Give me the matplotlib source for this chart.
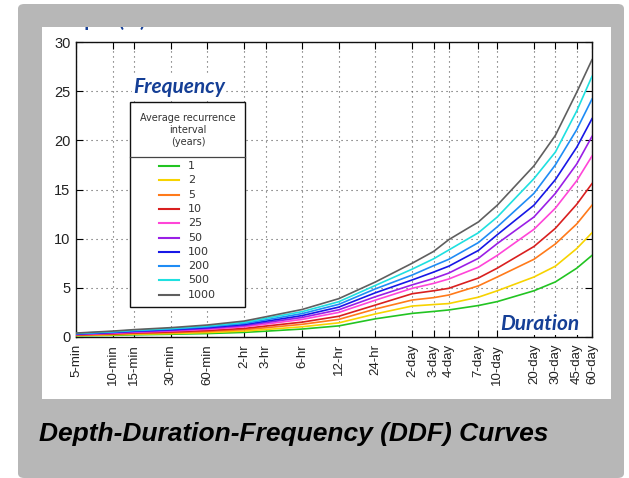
import matplotlib.pyplot as plt
from matplotlib.patches import Rectangle, FancyBboxPatch
from matplotlib.lines import Line2D
import numpy as np

# --- datos ---
duraciones = ["5-min", "10-min", "15-min", "30-min", "60-min", "2-hr", "3-hr", "6-hr",
              "12-hr", "24-hr", "2-day", "3-day", "4-day", "7-day", "10-day",
              "20-day", "30-day", "45-day", "60-day"]
minutos = [5, 10, 15, 30, 60, 120, 180, 360, 720, 1440, 2880, 4320, 5760,
           10080, 14400, 28800, 43200, 64800, 86400]

periodos = ["1", "2", "5", "10", "25", "50", "100", "200", "500", "1000"]

prof_1 = [0.12, 0.17, 0.22, 0.28, 0.35, 0.47, 0.59, 0.81, 1.13, 1.85, 2.40, 2.60, 2.75, 3.20, 3.60, 4.70, 5.60, 7.00, 8.30]
prof_2 = [0.15, 0.22, 0.28, 0.35, 0.45, 0.60, 0.76, 1.04, 1.44, 2.35, 3.15, 3.30, 3.40, 4.05, 4.70, 6.10, 7.20, 9.00, 10.60]
prof_5 = [0.18, 0.28, 0.35, 0.44, 0.56, 0.75, 0.94, 1.29, 1.79, 2.85, 3.76, 4.00, 4.27, 5.20, 6.10, 7.90, 9.46, 11.50, 13.40]
prof_10 = [0.22, 0.32, 0.41, 0.51, 0.66, 0.87, 1.11, 1.51, 2.11, 3.25, 4.40, 4.70, 4.95, 6.00, 7.00, 9.20, 11.05, 13.50, 15.60]
prof_25 = [0.26, 0.38, 0.48, 0.61, 0.78, 1.04, 1.31, 1.79, 2.50, 3.75, 4.95, 5.45, 5.90, 7.10, 8.30, 10.95, 13.10, 15.90, 18.40]
prof_50 = [0.28, 0.43, 0.53, 0.67, 0.87, 1.15, 1.46, 1.99, 2.77, 4.10, 5.30, 5.95, 6.50, 8.00, 9.50, 12.20, 14.60, 17.60, 20.40]
prof_100 = [0.31, 0.47, 0.59, 0.74, 0.95, 1.26, 1.60, 2.18, 3.04, 4.50, 5.80, 6.60, 7.20, 8.80, 10.40, 13.40, 16.00, 19.30, 22.20]
prof_200 = [0.34, 0.51, 0.64, 0.81, 1.04, 1.38, 1.74, 2.38, 3.32, 4.90, 6.30, 7.25, 7.90, 9.60, 11.20, 14.60, 17.50, 21.10, 24.20]
prof_500 = [0.37, 0.55, 0.69, 0.87, 1.12, 1.49, 1.89, 2.58, 3.59, 5.25, 6.90, 7.95, 8.85, 10.60, 12.20, 16.10, 18.80, 23.00, 26.50]
prof_1000 = [0.40, 0.60, 0.75, 0.95, 1.22, 1.62, 2.05, 2.80, 3.90, 5.60, 7.50, 8.70, 9.90, 11.70, 13.40, 17.40, 20.50, 24.90, 28.20]

series = [prof_1, prof_2, prof_5, prof_10, prof_25, prof_50, prof_100, prof_200, prof_500, prof_1000]
colores = ['#22c422', '#f7d300', '#ff7a1a', '#d91f1f', '#ff45d8',
           '#9a1fe6', '#1717e6', '#1f8cf5', '#1fe0e0', '#5f5f5f']

W, H = 629, 478
AZUL = '#153f96'


def px(x, y):
    # pixeles -> fraccion de figura
    return x / W, 1 - y / H


fig = plt.figure(figsize=(W / 100, H / 100), dpi=100)
fig.patch.set_facecolor('white')

# --- marco gris y panel blanco ---
x0, y0 = px(18, 478)
x1, y1 = px(624, 4)
marco = FancyBboxPatch((x0, y0), x1 - x0, y1 - y0, boxstyle="round,pad=0,rounding_size=0.01",
                       transform=fig.transFigure, facecolor='#b7b7b7', edgecolor='none', zorder=0)
fig.patches.append(marco)
x0, y0 = px(42, 399)
x1, y1 = px(611, 27)
panel = Rectangle((x0, y0), x1 - x0, y1 - y0, transform=fig.transFigure,
                  facecolor='white', edgecolor='none', zorder=0.5)
fig.patches.append(panel)

# --- ejes ---
l, t = px(76, 42)
r, b = px(592, 337)
ax = fig.add_axes([l, b, r - l, t - b])
ax.set_zorder(1)
ax.patch.set_alpha(0)

for serie, c in zip(series, colores):
    ax.plot(minutos, serie, color=c, linewidth=1.2, zorder=3)

ax.set_xscale('log')
ax.set_xlim(minutos[0], minutos[-1])
ax.set_ylim(0, 30)
ax.set_xticks(minutos)
ax.set_xticklabels(duraciones, rotation=90, fontsize=9.5, family='Liberation Sans', color='#222222')
ax.xaxis.set_minor_locator(plt.NullLocator())
ax.set_yticks([0, 5, 10, 15, 20, 25, 30])
ax.set_yticklabels(['0', '5', '10', '15', '20', '25', '30'], fontsize=10.5, family='Liberation Sans', color='#222222')
ax.tick_params(direction='in', length=5, width=0.8, top=True, right=True, pad=4)
ax.tick_params(axis='x', pad=5)
ax.grid(True, color='#555555', linestyle=(0, (1, 3.5)), linewidth=0.8)
for s in ax.spines.values():
    s.set_linewidth(1.0)
    s.set_color('#111111')

# --- textos azules ---
fig.text(*px(179, 87), "Frequency", ha='center', va='center', fontsize=15, color=AZUL,
         family='Lato', weight='bold', style='italic',
         bbox=dict(facecolor='white', edgecolor='none', pad=1), zorder=5)
fig.text(*px(540, 324), "Duration", ha='center', va='center', fontsize=15, color=AZUL,
         family='Lato', weight='bold', style='italic',
         bbox=dict(facecolor='white', edgecolor='none', pad=0.5), zorder=5)
etiqueta_y = fig.text(*px(102, 21), "Depth (in)", ha='center', va='center', fontsize=14,
                      color=AZUL, family='Lato', weight='bold', zorder=5)
etiqueta_y.set_clip_path(panel)

# --- leyenda dibujada a mano ---
lx0, ly0 = px(130, 307)
lx1, ly1 = px(245, 102)
fig.patches.append(Rectangle((lx0, ly0), lx1 - lx0, ly1 - ly0, transform=fig.transFigure,
                             facecolor='white', edgecolor='#111111', linewidth=1.0, zorder=4))
fig.lines.append(Line2D([lx0, lx1], [px(0, 157)[1]] * 2, transform=fig.transFigure,
                        color='#444444', linewidth=0.9, zorder=5))
fig.text(*px(188, 130), "Average recurrence\ninterval\n(years)", ha='center', va='center',
         fontsize=7, color='#333333', family='DejaVu Sans', linespacing=1.2, zorder=5)
for i, (p, c) in enumerate(zip(periodos, colores)):
    yy = 166 + i * 14.3
    fig.lines.append(Line2D([px(159, 0)[0], px(179, 0)[0]], [px(0, yy)[1]] * 2,
                            transform=fig.transFigure, color=c, linewidth=1.5, zorder=5))
    fig.text(*px(188, yy), p, ha='left', va='center', fontsize=8, color='#333333',
             family='DejaVu Sans', zorder=5)

# --- titulo inferior ---
fig.text(*px(39, 434), "Depth-Duration-Frequency (DDF) Curves", ha='left', va='center',
         fontsize=19, color='black', family='Liberation Sans', weight='bold', style='italic')

fig.savefig('out.png', dpi=100)
